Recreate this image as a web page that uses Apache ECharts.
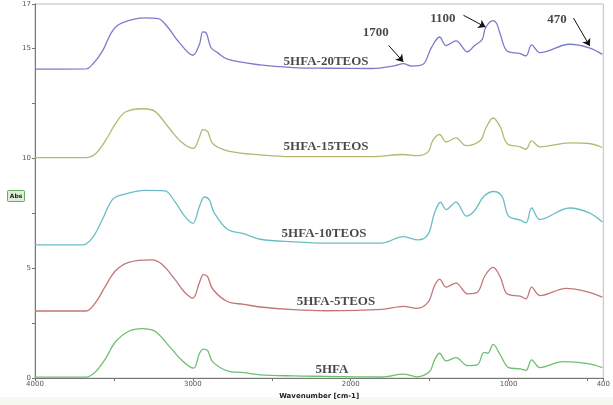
<!DOCTYPE html>
<html>
<head>
<meta charset="utf-8">
<script src="https://cdn.jsdelivr.net/npm/echarts@6/dist/echarts.min.js"></script>
<style>
  html, body { margin: 0; padding: 0; background: #fff; }
  #chart { width: 613px; height: 405px; }
</style>
</head>
<body>
<div id="chart"></div>
<script>
// spectra (wavenumber / absorbance with offset)
var wn20 = [4000, 3677, 3635, 3573, 3510, 3448, 3302, 3219, 3156, 3094, 3000, 2958, 2937, 2917, 2885, 2844, 2781, 2573, 2365, 2156, 1865, 1719, 1667, 1615, 1542, 1490, 1437, 1396, 1333, 1260, 1219, 1167, 1146, 1098, 1075, 1052, 1010, 927, 890, 854, 802, 614, 489, 406];
var abs20 = [14.04, 14.05, 14.26, 14.86, 15.77, 16.14, 16.37, 16.34, 15.92, 15.32, 14.67, 15.17, 15.73, 15.70, 15.01, 14.79, 14.49, 14.23, 14.11, 14.08, 14.07, 14.2, 14.29, 14.18, 14.26, 15.01, 15.5, 15.11, 15.32, 14.83, 15.09, 15.39, 15.92, 16.24, 16.1, 15.61, 14.86, 14.75, 14.64, 15.14, 14.79, 15.17, 15.01, 14.71];

var wn15 = [4000, 3677, 3615, 3552, 3490, 3427, 3312, 3240, 3156, 3073, 2996, 2958, 2937, 2906, 2875, 2781, 2573, 2365, 2156, 1865, 1667, 1580, 1510, 1479, 1437, 1396, 1333, 1271, 1177, 1146, 1098, 1052, 1010, 927, 890, 854, 802, 614, 489, 406];
var abs15 = [10.02, 10.02, 10.21, 10.81, 11.56, 12.09, 12.24, 12.12, 11.41, 10.73, 10.44, 10.96, 11.29, 11.2, 10.66, 10.33, 10.14, 10.06, 10.06, 10.06, 10.16, 10.11, 10.28, 10.81, 11.07, 10.73, 10.92, 10.56, 10.81, 11.34, 11.82, 11.41, 10.66, 10.51, 10.4, 10.78, 10.51, 10.69, 10.66, 10.48];

var wn10 = [4000, 3698, 3635, 3573, 3510, 3448, 3302, 3177, 3115, 3052, 3000, 2958, 2927, 2896, 2865, 2781, 2677, 2573, 2365, 2156, 1802, 1667, 1573, 1510, 1469, 1431, 1396, 1333, 1267, 1219, 1156, 1094, 1042, 1000, 927, 890, 854, 802, 614, 489, 406];
var abs10 = [6.05, 6.05, 6.38, 7.21, 8.11, 8.33, 8.53, 8.51, 8.03, 7.36, 7.03, 7.81, 8.23, 8.1, 7.51, 6.76, 6.56, 6.31, 6.19, 6.13, 6.14, 6.43, 6.28, 6.53, 7.51, 7.99, 7.66, 8.0, 7.36, 7.58, 8.26, 8.48, 8.26, 7.36, 7.18, 7.05, 7.73, 7.21, 7.73, 7.51, 7.09];

var wn5 = [4000, 3677, 3615, 3552, 3490, 3406, 3260, 3198, 3115, 3052, 3000, 2958, 2933, 2906, 2875, 2781, 2677, 2573, 2365, 2156, 1802, 1667, 1580, 1510, 1469, 1437, 1396, 1333, 1260, 1198, 1150, 1098, 1052, 1010, 927, 890, 854, 802, 635, 489, 406];
var abs5 = [3.05, 3.05, 3.45, 4.2, 4.88, 5.26, 5.37, 5.18, 4.5, 3.9, 3.63, 4.35, 4.7, 4.6, 4.05, 3.48, 3.35, 3.23, 3.11, 3.06, 3.12, 3.26, 3.17, 3.45, 4.2, 4.5, 4.13, 4.32, 3.83, 3.9, 4.65, 5.03, 4.58, 3.83, 3.72, 3.6, 4.13, 3.75, 4.08, 3.9, 3.68];

var wn0 = [4000, 3677, 3615, 3552, 3490, 3406, 3323, 3240, 3156, 3073, 2996, 2958, 2933, 2906, 2875, 2781, 2677, 2573, 2365, 2156, 1802, 1667, 1580, 1500, 1469, 1437, 1396, 1333, 1260, 1198, 1156, 1131, 1098, 1052, 1000, 927, 890, 854, 802, 656, 489, 406];
var abs0 = [0.04, 0.04, 0.3, 0.9, 1.65, 2.13, 2.25, 2.13, 1.5, 0.83, 0.45, 1.13, 1.32, 1.25, 0.75, 0.33, 0.25, 0.15, 0.1, 0.08, 0.05, 0.18, 0.06, 0.3, 0.83, 1.13, 0.78, 0.93, 0.57, 0.6, 1.17, 1.13, 1.53, 1.05, 0.48, 0.42, 0.35, 0.83, 0.48, 0.75, 0.65, 0.48];

// curve names and where they are written
var names = ['5HFA-20TEOS', '5HFA-15TEOS', '5HFA-10TEOS', '5HFA-5TEOS', '5HFA'];
var nameWn = [2156, 2156, 2169, 2094, 2119];
var nameAbs = [14.37, 10.51, 6.56, 3.48, 0.37];

// peak annotations
var peakText = ['1700', '1100', '470'];
var peakTextWn = [1841, 1416, 694];
var peakTextAbs = [15.68, 16.35, 16.31];
var arrowFromWn = [1760, 1286, 589];
var arrowFromAbs = [15.12, 16.49, 16.36];
var arrowToWn = [1667, 1146, 486];
var arrowToAbs = [14.37, 15.95, 15.09];

var xLabels = [4000, 3000, 2000, 1000, 400];
var xTicks = [4000, 3500, 3000, 2500, 2000, 1500, 1000, 500, 400];
var yLabels = [0, 5, 10, 15, 17];

var colors = ['#7b7bcb', '#b7b772', '#6cbcc6', '#c47676', '#6fbe70'];
var spectra = [[wn20, abs20], [wn15, abs15], [wn10, abs10], [wn5, abs5], [wn0, abs0]];

function zip(a, b) {
    return a.map((v, i) => [v, b[i]]);
}

var chart = echarts.init(document.getElementById('chart'));

var series = spectra.map((s, i) => {
    return {
        name: names[i],
        type: 'line',
        data: zip(s[0], s[1]),
        showSymbol: false,
        smooth: 0.35,
        lineStyle: { color: colors[i], width: 1.3 },
        z: 3
    }
});

series.push({
    name: 'labels',
    type: 'scatter',
    symbolSize: 0,
    data: names.map((n, i) => ({ value: [nameWn[i], nameAbs[i]], name: n })),
    label: {
        show: true,
        position: 'inside',
        formatter: p => p.name,
        fontFamily: 'Liberation Serif',
        fontWeight: 'bold',
        fontSize: 13,
        color: '#1a1a1a'
    },
    z: 5
});

series.push({
    name: 'peaks',
    type: 'scatter',
    symbolSize: 0,
    data: peakText.map((n, i) => ({ value: [peakTextWn[i], peakTextAbs[i]], name: n })),
    label: {
        show: true,
        position: 'inside',
        formatter: p => p.name,
        fontFamily: 'Liberation Serif',
        fontWeight: 'bold',
        fontSize: 13,
        color: '#1a1a1a'
    },
    markLine: {
        silent: true,
        symbol: ['none', 'arrow'],
        symbolSize: 7,
        label: { show: false },
        lineStyle: { color: '#111', width: 1, type: 'solid' },
        data: peakText.map((n, i) => [
            { coord: [arrowFromWn[i], arrowFromAbs[i]] },
            { coord: [arrowToWn[i], arrowToAbs[i]] }
        ])
    },
    z: 5
});

chart.setOption({
    animation: false,
    backgroundColor: '#fff',
    grid: {
        left: 35, right: 3, top: 4, bottom: 25,
        show: true,
        borderColor: '#bdbdbd',
        borderWidth: 1
    },
    xAxis: {
        type: 'value',
        inverse: true,
        min: 400,
        max: 4000,
        name: 'Wavenumber [cm-1]',
        nameLocation: 'middle',
        nameGap: 12,
        nameTextStyle: { fontFamily: 'DejaVu Sans', fontWeight: 'bold', fontSize: 7, color: '#222' },
        axisLine: { lineStyle: { color: '#777', width: 1 } },
        axisTick: { customValues: xTicks, length: 3, inside: false, lineStyle: { color: '#777' } },
        axisLabel: { customValues: xLabels, formatter: v => String(v), fontSize: 7, color: '#555', margin: 3, fontFamily: 'DejaVu Sans' },
        splitLine: { show: false }
    },
    yAxis: {
        type: 'value',
        min: 0,
        max: 17,
        interval: 2.5,
        axisLine: { show: true, lineStyle: { color: '#777', width: 1 } },
        axisTick: { show: true, length: 3, lineStyle: { color: '#777' } },
        axisLabel: { customValues: yLabels, formatter: v => String(v), fontSize: 7, color: '#555', margin: 4, fontFamily: 'DejaVu Sans' },
        splitLine: { show: false }
    },
    graphic: [
        {
            type: 'rect',
            left: 0, top: 397,
            shape: { width: 613, height: 8 },
            style: { fill: '#f6f9ef' },
            z: -1
        },
        {
            type: 'group',
            left: 7, top: 190,
            children: [
                { type: 'rect', shape: { width: 17, height: 11, r: 1 }, style: { fill: '#dcefd6', stroke: '#6aaa6a', lineWidth: 1 } },
                { type: 'text', x: 8.5, y: 5.5, style: { text: 'Abs', fontSize: 6, fontWeight: 'bold', fontFamily: 'DejaVu Sans', fill: '#222', align: 'center', verticalAlign: 'middle' } }
            ]
        }
    ],
    series: series
});

window.addEventListener('resize', function () {
    chart.resize();
})
</script>
</body>
</html>
